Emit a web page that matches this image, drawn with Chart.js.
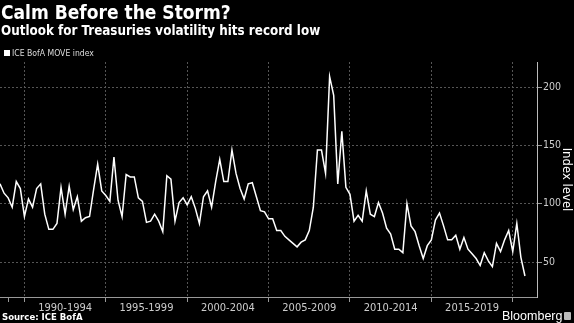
<!DOCTYPE html>
<html><head><meta charset="utf-8">
<script src="https://cdn.jsdelivr.net/npm/chart.js@4"></script>
<style>
html,body{margin:0;padding:0;background:#000;width:574px;height:323px;overflow:hidden}
#wrap{position:absolute;left:0;top:0;width:574px;height:323px}
.t{position:absolute;color:#fff;font-family:"DejaVu Sans Condensed","DejaVu Sans",sans-serif;white-space:nowrap;line-height:1}
#logo{position:absolute;left:564px;top:312px;width:7px;height:8px;background:#bbb;border-radius:1px}
</style></head><body>
<div id="wrap"><canvas id="c" width="574" height="323"></canvas></div>
<div class="t" style="left:1px;top:3px;font-size:19px;font-weight:bold">Calm Before the Storm?</div>
<div class="t" style="left:1px;top:24px;font-size:13.3px;font-weight:bold">Outlook for Treasuries volatility hits record low</div>
<div style="position:absolute;left:4px;top:50px;width:6px;height:6px;background:#fff"></div>
<div class="t" style="left:12px;top:48.5px;font-size:8.6px;color:#ddd">ICE BofA MOVE index</div>
<div class="t" style="left:2px;top:312px;font-size:9.5px;font-weight:bold">Source: ICE BofA</div>
<div class="t" style="left:502px;top:310px;font-size:12.5px;font-family:'Liberation Sans',sans-serif;color:#fff">Bloomberg</div>
<div id="logo"></div>
<script>
// Quarterly MOVE index values, starting 1988 Q3
const startYear = 1988;
const startQuarter = 3;
const moveValues = [
  117,109,105,97,119,113,89,104,97,113,
  117,91,78,78,83,114,91,115,95,106,
  85,88,89,112,134,111,107,102,140,103,
  89,125,123,123,105,102,84,85,91,85,
  76,124,121,85,101,105,99,106,96,83,
  106,111,97,119,138,119,119,146,126,113,
  104,117,118,106,94,93,87,87,77,77,
  72,69,
  66,63,67,69,77,97,146,146,126,209,
  193,117,162,114,108,85,90,85,111,91,
  89,101,92,79,74,61,61,58,100,81,
  76,64,53,64,69,86,92,81,69,69,
  73,61,71,61,57,53,47,58,51,46,
  66,59,69,77,59,83,54,38
];
const periodStarts = [1990,1995,2000,2005,2010,2015,2020];
const periodLabels = ['1990-1994','1995-1999','2000-2004','2005-2009','2010-2014','2015-2019'];
const extraTick = 1989;
const yTicks = [50,100,150,200];

const dates = moveValues.map((_, i) => {
  const q = startQuarter - 1 + i;
  return startYear + Math.floor(q / 4) + (q % 4) / 4;
});
const points = moveValues.map((v, i) => ({x: dates[i], y: v}));

const labelAt = {};
periodLabels.forEach((l, i) => { labelAt[periodStarts[i] + 2.5] = l; });
const xTickVals = [extraTick, ...periodStarts, ...periodLabels.map((_, i) => periodStarts[i] + 2.5)].sort((a,b)=>a-b);
const isBoundary = v => periodStarts.includes(v);

const gridCol = '#555';
const font = {family: "'DejaVu Sans Condensed','DejaVu Sans',sans-serif", size: 11};

new Chart(document.getElementById('c'), {
  type: 'line',
  data: {datasets: [{
    label: 'ICE BofA MOVE index',
    data: points,
    borderColor: '#fff',
    borderWidth: 1.5,
    pointRadius: 0,
    tension: 0,
    fill: false
  }]},
  options: {
    responsive: false,
    animation: false,
    layout: {padding: {top: 62, left: 0, right: 0, bottom: 0}},
    plugins: {legend: {display: false}, tooltip: {enabled: false}},
    scales: {
      x: {
        type: 'linear',
        position: 'bottom',
        min: 1988.5,
        max: 2021.49,
        afterBuildTicks: s => { s.ticks = xTickVals.map(v => ({value: v})); },
        afterFit: s => { s.height = 26; },
        grid: {
          color: c => (c.tick && isBoundary(c.tick.value)) ? gridCol : 'rgba(0,0,0,0)',
          tickColor: c => (c.tick && (isBoundary(c.tick.value) || c.tick.value === extraTick)) ? '#999' : 'rgba(0,0,0,0)',
          tickLength: 5,
          lineWidth: 1
        },
        border: {display: true, color: '#999', width: 1, dash: [2, 2]},
        ticks: {
          autoSkip: false, maxRotation: 0, padding: 0,
          color: '#ccc', font: font,
          callback: v => labelAt[v] || ''
        }
      },
      y: {
        type: 'linear',
        position: 'right',
        min: 20,
        max: 221.5,
        afterBuildTicks: s => { s.ticks = yTicks.map(v => ({value: v})); },
        afterFit: s => { s.width = 37; },
        grid: {color: gridCol, tickColor: '#999', tickLength: 5, lineWidth: 1},
        border: {display: true, color: '#bbb', width: 1, dash: [2, 2]},
        ticks: {color: '#ccc', font: {family: font.family, size: 10.5}, padding: 1},
        title: {display: true, text: 'Index level', color: '#fff', font: {family: font.family, size: 13}, padding: 0}
      }
    }
  }
});
</script>
</body></html>
